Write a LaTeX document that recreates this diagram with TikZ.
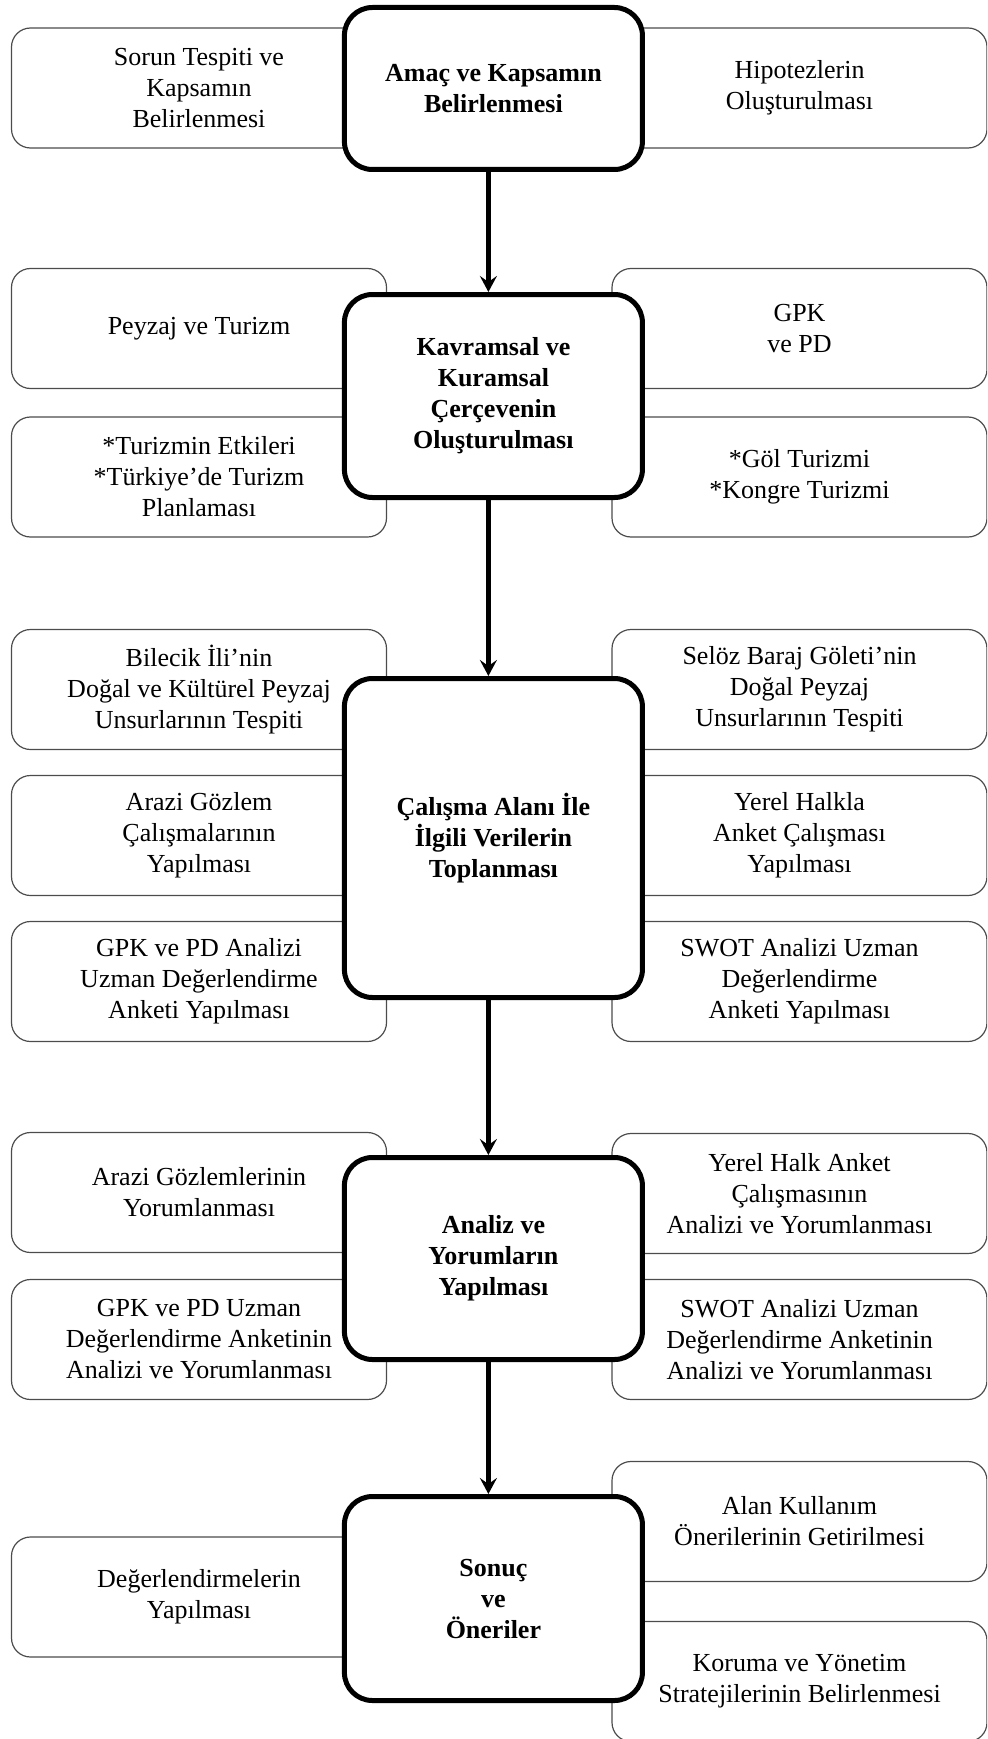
\documentclass[tikz,border=0pt]{standalone}
\usepackage{fontspec}
\setmainfont{Liberation Serif}
\usetikzlibrary{arrows.meta}

\begin{document}
\begin{tikzpicture}[x=0.5pt,y=-0.5pt,
  side/.style={draw=black!70,line width=0.6pt,rounded corners=9.5pt,minimum width=187.5pt,minimum height=60pt,inner sep=0pt,align=center,font=\fontsize{13}{15.5}\selectfont},
  main/.style={draw,fill=white,line width=2.5pt,rounded corners=14pt,minimum width=149pt,inner sep=0pt,align=center,font=\fontsize{13}{15.5}\selectfont\bfseries},
  flow/.style={line width=2.5pt,-{Stealth[length=8pt,width=8.5pt,inset=3pt]}}]
  \clip (0,0) rectangle (987,1739);
  \node[side] (sorun) at (199,88) {Sorun Tespiti ve\\Kapsamın\\Belirlenmesi};
  \node[side] (hipotez) at (799.5,88) {Hipotezlerin\\Oluşturulması};
  \node[side] (peyzaj) at (199,328.5) {Peyzaj ve Turizm};
  \node[side] (gpk) at (799.5,328.5) {GPK\\ve PD};
  \node[side] (etki) at (199,477) {*Turizmin Etkileri\\*Türkiye’de Turizm\\Planlaması};
  \node[side] (gol) at (799.5,477) {*Göl Turizmi\\*Kongre Turizmi};
  \node[side] (bilecik) at (199,689.5) {Bilecik İli’nin\\Doğal ve Kültürel Peyzaj\\Unsurlarının Tespiti};
  \node[side] (seloz) at (799.5,689.5) {Selöz Baraj Göleti’nin\\Doğal Peyzaj\\Unsurlarının Tespiti};
  \node[side] (arazi) at (199,835.5) {Arazi Gözlem\\Çalışmalarının\\Yapılması};
  \node[side] (halk) at (799.5,835.5) {Yerel Halkla\\Anket Çalışması\\Yapılması};
  \node[side] (gpkanket) at (199,981.5) {GPK ve PD Analizi\\Uzman Değerlendirme\\Anketi Yapılması};
  \node[side] (swotanket) at (799.5,981.5) {SWOT Analizi Uzman\\Değerlendirme\\Anketi Yapılması};
  \node[side] (gozlemyorum) at (199,1192.5) {Arazi Gözlemlerinin\\Yorumlanması};
  \node[side] (halkyorum) at (799.5,1193.5) {Yerel Halk Anket\\Çalışmasının\\Analizi ve Yorumlanması};
  \node[side] (gpkyorum) at (199,1339.5) {GPK ve PD Uzman\\Değerlendirme Anketinin\\Analizi ve Yorumlanması};
  \node[side] (swotyorum) at (799.5,1339.5) {SWOT Analizi Uzman\\Değerlendirme Anketinin\\Analizi ve Yorumlanması};
  \node[side] (degerlendirme) at (199,1597) {Değerlendirmelerin\\Yapılması};
  \node[side] (alan) at (799.5,1521.5) {Alan Kullanım\\Önerilerinin Getirilmesi};
  \node[side] (koruma) at (799.5,1681.5) {Koruma ve Yönetim\\Stratejilerinin Belirlenmesi};
  \node[main,minimum height=81pt] (amac) at (493.4,88.5) {Amaç ve Kapsamın\\Belirlenmesi};
  \node[main,minimum height=101.5pt] (kavram) at (493.4,396) {Kavramsal ve\\Kuramsal\\Çerçevenin\\Oluşturulması};
  \node[main,minimum height=159.5pt] (calisma) at (493.4,838) {Çalışma Alanı İle\\İlgili Verilerin\\Toplanması};
  \node[main,minimum height=101pt] (analiz) at (493.4,1258.5) {Analiz ve\\Yorumların\\Yapılması};
  \node[main,minimum height=102pt] (sonuc) at (493.4,1598.5) {Sonuç\\ve\\Öneriler};
  \draw[flow] ([xshift=-2.5pt]amac.south) -- ([xshift=-2.5pt]kavram.north);
  \draw[flow] ([xshift=-2.5pt]kavram.south) -- ([xshift=-2.5pt]calisma.north);
  \draw[flow] ([xshift=-2.5pt]calisma.south) -- ([xshift=-2.5pt]analiz.north);
  \draw[flow] ([xshift=-2.5pt]analiz.south) -- ([xshift=-2.5pt]sonuc.north);
\end{tikzpicture}
\end{document}
